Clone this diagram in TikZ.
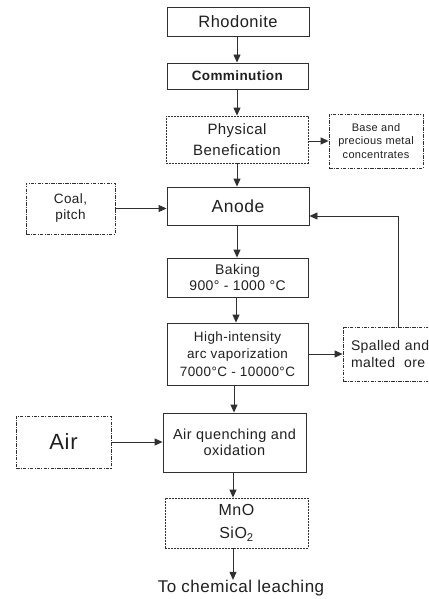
\documentclass[tikz,border=0pt]{standalone}
\usepackage{fontspec}
\setmainfont{Liberation Sans}[LetterSpace=3]
\usetikzlibrary{arrows.meta}
\definecolor{lc}{HTML}{303030}
\definecolor{txt}{HTML}{202020}
\begin{document}
\begin{tikzpicture}[x=1pt,y=-1pt,
  every node/.style={text=txt, align=center, inner sep=0pt},
  box/.style={draw=lc, line width=0.9pt},
  dbox/.style={draw=lc, line width=0.8pt, dash pattern=on 2pt off 1pt},
  ddbox/.style={draw=lc, line width=0.8pt, dash pattern=on 3.5pt off 1.2pt on 1pt off 1.2pt},
  arr/.style={draw=lc, line width=0.9pt, -{Triangle[length=8pt,width=7pt]}},
  fs/.style 2 args={font=\fontsize{#1}{#2}\selectfont}
]
\clip (0,0) rectangle (428,599);
\path[fill=white] (0,0) rectangle (428,599);

% main column
\node[box, minimum width=142, minimum height=29, fs={16.5}{18}] (rhod) at (238,21.5) {Rhodonite};
\node[box, minimum width=141, minimum height=26, fs={13.5}{16}] (comm) at (237.5,76) {\textbf{Comminution}};
\node[dbox, minimum width=142, minimum height=47, fs={15}{20.5}] (phys) at (237,139.5) {Physical\\Benefication};
\node[ddbox, minimum width=94, minimum height=54, fs={11}{13.3}] (base) at (376,141) {Base and\\precious metal\\concentrates};
\node[box, minimum width=142, minimum height=38, fs={17.5}{20}] (anode) at (238,206) {Anode};
\node[ddbox, minimum width=89, minimum height=51, fs={13.5}{16}] (coal) at (70.5,208.5) {Coal,\\pitch};
\node[box, minimum width=141, minimum height=39, fs={14}{16.7}] (bake) at (237.5,277.5) {Baking\\900° - 1000 °C};
\node[box, minimum width=141, minimum height=62, fs={13.5}{17.3}] (high) at (237.5,354) {High-intensity\\arc vaporization\\7000°C - 10000°C};
\node[ddbox, minimum width=130, minimum height=54, fs={14}{17.3}, align=left, text width=114, inner xsep=8pt] (spal) at (408,354) {Spalled and\\malted\hspace{9pt}ore};
\node[ddbox, minimum width=95, minimum height=52, fs={22}{24}] (air) at (63.5,442) {Air};
\node[box, minimum width=143, minimum height=59, fs={14.5}{16.2}] (quen) at (234.5,442.5) {Air quenching and\\oxidation};
\node[dbox, minimum width=143, minimum height=50, fs={16}{23}] (mno) at (236.5,523) {MnO\\SiO\textsubscript{2}};
\node[fs={17}{19}] (leach) at (241,588) {To chemical leaching};

% columns for vertical arrows
\coordinate (cA) at (237,0);
\coordinate (cB) at (236,0);
\coordinate (cC) at (234,0);
\coordinate (cD) at (233,0);
\coordinate (fb) at (398,216);

\draw[arr] (rhod.south -| cA) -- (comm.north -| cA);
\draw[arr] (comm.south -| cA) -- (phys.north -| cA);
\draw[arr] (phys.south -| cA) -- (anode.north -| cA);
\draw[arr] (anode.south -| cA) -- (bake.north -| cA);
\draw[arr] (bake.south -| cB) -- (high.north -| cB);
\draw[arr] (high.south -| cC) -- (quen.north -| cC);
\draw[arr] (quen.south -| cD) -- (mno.north -| cD);
\draw[arr] (mno.south -| cD) -- (leach.north -| cD);

\draw[arr] (phys.east |- base.west) -- (base.west);
\draw[arr] (coal.east) -- (coal.east -| anode.west);
\draw[arr] (high.east) -- (high.east -| spal.west);
\draw[arr] (air.east) -- (air.east -| quen.west);
\draw[arr] (fb |- spal.north) -- (fb) -- (fb -| anode.east);
\end{tikzpicture}
\end{document}
